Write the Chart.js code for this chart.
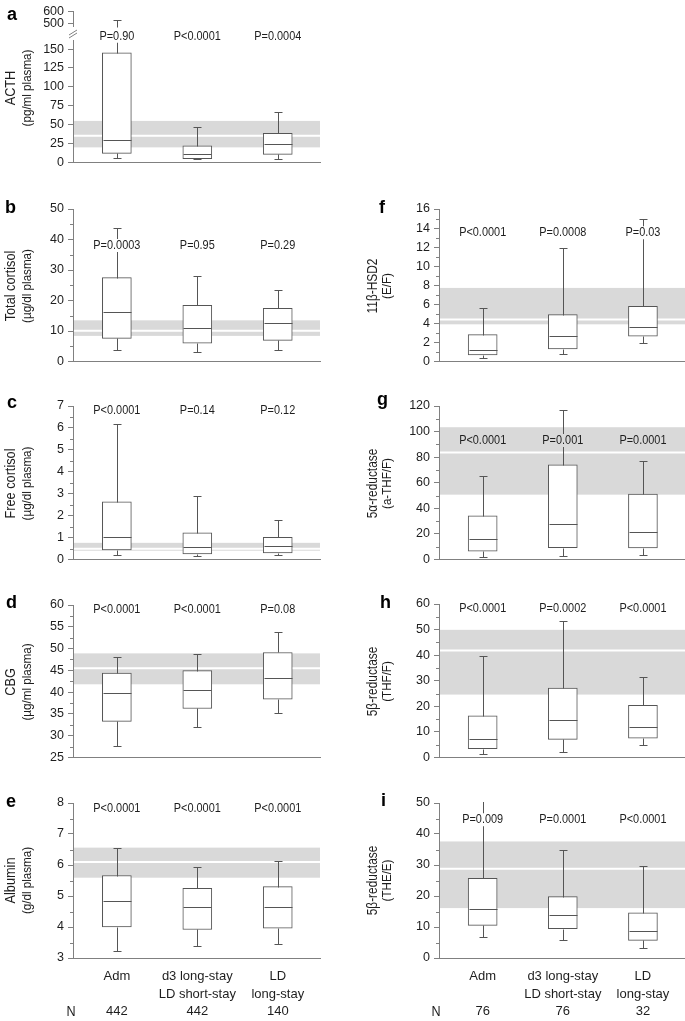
<!DOCTYPE html>
<html>
<head>
<meta charset="utf-8">
<script src="https://cdn.jsdelivr.net/npm/chart.js@4.4.1/dist/chart.umd.min.js"></script>
<style>
    html, body { margin: 0; padding: 0; background: #fff; }
    #fig { position: relative; width: 685px; height: 1021px; overflow: hidden; }
    #fig canvas { position: absolute; }
</style>
</head>
<body>
<div id="fig"></div>
<script>
// ============================================
// DATA
// box stats per group: [min, q1, median, q3, max]
// reference band: [low, mean, high]
// ============================================
const groupLabels = [['Adm', ''], ['d3 long-stay', 'LD short-stay'], ['LD', 'long-stay']];
const nPlasma = [442, 442, 140];
const nUrine = [76, 76, 32];

const acthBoxes = [[6.5, 12, 30, 145, 530], [4, 5.2, 10.8, 22.2, 47], [4.7, 10.8, 23.9, 38.6, 66.5]];
const acthRef = [20, 35.5, 55];
const acthP = ['P=0.90', 'P<0.0001', 'P=0.0004'];

const totalCortisolBoxes = [[3.7, 7.6, 16.1, 27.5, 43.9], [3.05, 6.0, 10.85, 18.45, 27.9], [3.7, 6.95, 12.5, 17.4, 23.4]];
const totalCortisolRef = [8.4, 10.1, 13.5];
const totalCortisolP = ['P=0.0003', 'P=0.95', 'P=0.29'];

const freeCortisolBoxes = [[0.21, 0.44, 1.01, 2.63, 6.17], [0.15, 0.26, 0.59, 1.22, 2.89], [0.21, 0.30, 0.60, 1.01, 1.80]];
const freeCortisolRef = [0.40, 0.49, 0.76];
const freeCortisolP = ['P<0.0001', 'P=0.14', 'P=0.12'];

const cbgBoxes = [[27.6, 33.3, 39.8, 44.4, 48.1], [32.0, 36.25, 40.6, 44.95, 48.8], [35.2, 38.4, 43.3, 49.1, 53.7]];
const cbgRef = [41.8, 45.5, 48.9];
const cbgP = ['P<0.0001', 'P<0.0001', 'P=0.08'];

const albuminBoxes = [[3.23, 4.0, 4.83, 5.66, 6.56], [3.38, 3.92, 4.63, 5.25, 5.93], [3.46, 3.96, 4.65, 5.30, 6.12]];
const albuminRef = [5.59, 6.10, 6.56];
const albuminP = ['P<0.0001', 'P<0.0001', 'P<0.0001'];

const hsd2Boxes = [[0.35, 0.70, 1.25, 2.82, 5.57], [0.77, 1.33, 2.68, 4.91, 11.87], [1.92, 2.65, 3.59, 5.78, 14.96]];
const hsd2Ref = [3.9, 4.4, 7.72];
const hsd2P = ['P<0.0001', 'P=0.0008', 'P=0.03'];

const alphaThfBoxes = [[1.6, 6.5, 15.8, 34.1, 65.5], [2.6, 9.3, 27.5, 74.0, 116.7], [3.4, 9.1, 21.7, 51.2, 76.8]];
const alphaThfRef = [50.7, 83.6, 103.4];
const alphaThfP = ['P<0.0001', 'P=0.001', 'P=0.0001'];

const betaThfBoxes = [[1.3, 3.5, 7.1, 16.3, 39.5], [2.2, 7.1, 14.6, 27.1, 53.3], [4.8, 7.6, 12.1, 20.4, 31.6]];
const betaThfRef = [24.6, 41.8, 49.9];
const betaThfP = ['P<0.0001', 'P=0.0002', 'P<0.0001'];

const betaTheBoxes = [[6.8, 10.5, 15.9, 25.7, 50.9], [5.9, 9.5, 14.0, 19.8, 34.8], [3.35, 5.7, 8.8, 14.6, 29.7]];
const betaTheRef = [16.1, 28.8, 37.6];
const betaTheP = ['P=0.009', 'P=0.0001', 'P<0.0001'];

// ============================================
// STYLE
// ============================================
const FAMILY = '"Liberation Sans", Arial, sans-serif';
const INK = '#1e1e1e';
const AXIS = '#808080';
const BOX = '#555555';
const BAND = '#d9d9d9';
const P_SIZE = 13;
const P_SQUEEZE = 0.84;

Chart.defaults.font.family = FAMILY;
Chart.defaults.color = INK;

/**
 * Draw condensed text (the figure uses a narrow sans)
 */
function narrowText(ctx, txt, x, y, size, squeeze, rotate) {
    ctx.save();
    ctx.translate(x, y);
    if (rotate) ctx.rotate(-Math.PI / 2);
    ctx.scale(squeeze, 1);
    ctx.font = size + 'px ' + FAMILY;
    ctx.fillStyle = INK;
    ctx.textAlign = 'center';
    ctx.textBaseline = 'middle';
    ctx.fillText(txt, 0, 0);
    ctx.restore();
}

// ============================================
// BOX PLOT PLUGIN
// band, whiskers, medians, texts
// ============================================
const boxPlugin = {
    id: 'boxplot',

    beforeDatasetsDraw(chart, args, o) {
        if (!o.ref) return;
        const { ctx, chartArea: a, scales: { y } } = chart;
        const lo = y.getPixelForValue(o.ref[0]);
        const mid = y.getPixelForValue(o.ref[1]);
        const hi = y.getPixelForValue(o.ref[2]);
        ctx.save();
        ctx.fillStyle = BAND;
        ctx.fillRect(a.left + 1, hi, a.right - a.left - 1, lo - hi);
        ctx.strokeStyle = '#ffffff';
        ctx.lineWidth = 2;
        ctx.beginPath();
        ctx.moveTo(a.left + 1, mid);
        ctx.lineTo(a.right, mid);
        ctx.stroke();
        ctx.restore();
    },

    afterDatasetsDraw(chart, args, o) {
        const { ctx, chartArea: a, scales: { x, y } } = chart;
        const ds = chart.data.datasets[0];
        ctx.save();
        ctx.beginPath();
        ctx.rect(a.left, a.top - 1, a.right - a.left, a.bottom - a.top + 2);
        ctx.clip();

        // whiskers stop short of the P value labels
        if (o.p) {
            ctx.font = P_SIZE + 'px ' + FAMILY;
            ctx.beginPath();
            ctx.rect(0, 0, chart.width, chart.height);
            o.p.forEach((txt, i) => {
                const w = ctx.measureText(txt).width * P_SQUEEZE + 2;
                const cy = y.getPixelForValue(o.pY);
                ctx.rect(x.getPixelForValue(i) - w / 2, cy - 6.5, w, 13);
            });
            ctx.clip('evenodd');
        }

        ctx.strokeStyle = BOX;
        ctx.lineWidth = 1;
        ds.stats.forEach((s, i) => {
            const cx = Math.round(x.getPixelForValue(i)) + 0.5;
            const [yMin, yQ1, yMed, yQ3, yMax] = s.map(v => Math.round(y.getPixelForValue(v)) + 0.5);
            ctx.beginPath();
            ctx.moveTo(cx, yQ1); ctx.lineTo(cx, yMin);
            ctx.moveTo(cx - 4, yMin); ctx.lineTo(cx + 4, yMin);
            ctx.moveTo(cx, yQ3); ctx.lineTo(cx, yMax);
            ctx.moveTo(cx - 4, yMax); ctx.lineTo(cx + 4, yMax);
            ctx.moveTo(cx - 14, yMed); ctx.lineTo(cx + 14, yMed);
            ctx.stroke();
        });
        ctx.restore();
    },

    afterDraw(chart, args, o) {
        const { ctx, chartArea: a, scales: { x, y } } = chart;
        ctx.save();

        // minor ticks halfway between labelled ticks
        if (o.minor) {
            const t = y.ticks;
            ctx.strokeStyle = AXIS;
            ctx.lineWidth = 1;
            ctx.beginPath();
            for (let k = 0; k < t.length - 1; k++) {
                const py = Math.round(y.getPixelForValue((t[k].value + t[k + 1].value) / 2)) + 0.5;
                ctx.moveTo(a.left - 3, py);
                ctx.lineTo(a.left, py);
            }
            ctx.stroke();
        }

        // axis break marks
        if (o.breakMark) {
            ctx.strokeStyle = AXIS;
            ctx.lineWidth = 1;
            ctx.beginPath();
            ctx.moveTo(a.left - 4, a.top - 2); ctx.lineTo(a.left + 4, a.top - 7);
            ctx.moveTo(a.left - 4, a.top - 5); ctx.lineTo(a.left + 4, a.top - 10);
            ctx.stroke();
        }

        // P values
        if (o.p) {
            o.p.forEach((txt, i) => {
                narrowText(ctx, txt, x.getPixelForValue(i), y.getPixelForValue(o.pY), P_SIZE, P_SQUEEZE);
            });
        }

        // y axis title, two lines rotated
        if (o.title) {
            const cy = o.titleCY - o.oy;
            narrowText(ctx, o.title[0], o.titleX[0] - o.ox, cy, o.titleSize[0], 0.82, true);
            narrowText(ctx, o.title[1], o.titleX[1] - o.ox, cy, o.titleSize[1], 0.86, true);
        }

        // panel letter
        if (o.letter) {
            ctx.fillStyle = '#000';
            ctx.font = 'bold 18px ' + FAMILY;
            ctx.textAlign = 'left';
            ctx.textBaseline = 'alphabetic';
            ctx.fillText(o.letter[0], o.letter[1] - o.ox, o.letter[2] - o.oy);
        }

        // "N" in front of the counts row
        if (o.nMark) {
            narrowText(ctx, 'N', o.nMark[0] - o.ox, o.nMark[1] - o.oy, 14, 0.9);
        }
        ctx.restore();
    }
};

// ============================================
// PANELS
// area = [top, bottom] of the plot in page pixels
// ============================================
const COLS = [
    { left: 0, axisX: 73, plotRight: 320, right: 325, titleX: [11, 27], titleSize: [15.5, 13.5] },
    { left: 340, axisX: 439, plotRight: 685, right: 685, titleX: [373, 387], titleSize: [14.5, 13.5] }
];

const panels = [
    { col: 0, area: [40, 164], y: [0, 162], step: 25, boxes: acthBoxes, ref: acthRef, p: acthP, pY: 167,
      title: ['ACTH', '(pg/ml plasma)'], titleCY: 88, letter: ['a', 7, 20], breakMark: true, canvasTop: 0 },
    { col: 0, area: [11, 30], y: [473, 600], step: 100, boxes: acthBoxes, hideX: true, canvasTop: 0, canvasBottom: 38 },
    { col: 0, area: [209, 363], y: [0, 50], step: 10, boxes: totalCortisolBoxes, ref: totalCortisolRef, p: totalCortisolP, pY: 38,
      title: ['Total cortisol', '(µg/dl plasma)'], letter: ['b', 5, 213], minor: true },
    { col: 0, area: [406, 561], y: [0, 7], step: 1, boxes: freeCortisolBoxes, ref: freeCortisolRef, p: freeCortisolP, pY: 6.82,
      title: ['Free cortisol', '(µg/dl plasma)'], letter: ['c', 7, 408], minor: true },
    { col: 0, area: [605, 759], y: [25, 60], step: 5, boxes: cbgBoxes, ref: cbgRef, p: cbgP, pY: 59.0,
      title: ['CBG', '(µg/ml plasma)'], letter: ['d', 6, 608], minor: true },
    { col: 0, area: [803, 958], y: [3, 8], step: 1, boxes: albuminBoxes, ref: albuminRef, p: albuminP, pY: 7.84,
      title: ['Albumin', '(g/dl plasma)'], letter: ['e', 6, 807], minor: true, counts: nPlasma, nMark: [71, 1012] },
    { col: 1, area: [209, 363], y: [0, 16], step: 2, boxes: hsd2Boxes, ref: hsd2Ref, p: hsd2P, pY: 13.5,
      title: ['11β-HSD2', '(E/F)'], letter: ['f', 379, 213], minor: true },
    { col: 1, area: [406, 561], y: [0, 120], step: 20, boxes: alphaThfBoxes, ref: alphaThfRef, p: alphaThfP, pY: 93.1,
      title: ['5α-reductase', '(a-THF/F)'], letter: ['g', 377, 405], minor: true },
    { col: 1, area: [604, 759], y: [0, 60], step: 10, boxes: betaThfBoxes, ref: betaThfRef, p: betaThfP, pY: 58.1,
      title: ['5β-reductase', '(THF/F)'], letter: ['h', 380, 608], minor: true },
    { col: 1, area: [803, 958], y: [0, 50], step: 10, boxes: betaTheBoxes, ref: betaTheRef, p: betaTheP, pY: 44.6,
      title: ['5β-reductase', '(THE/E)'], letter: ['i', 381, 806], minor: true, counts: nUrine, nMark: [436, 1012] }
];

/**
 * Build one panel as its own Chart
 */
function buildPanel(p) {
    const col = COLS[p.col];
    const xAxisH = p.counts ? 63 : 0;
    const top = p.canvasTop !== undefined ? p.canvasTop : p.area[0] - 20;
    const bottom = p.canvasBottom !== undefined ? p.canvasBottom : p.area[1] + (p.counts ? 63 : 10);
    const cv = document.createElement('canvas');
    cv.width = col.right - col.left;
    cv.height = bottom - top;
    cv.style.left = col.left + 'px';
    cv.style.top = top + 'px';
    document.getElementById('fig').appendChild(cv);

    const xLabels = p.counts ? groupLabels.map((g, i) => [g[0], g[1], String(p.counts[i])]) : null;

    return new Chart(cv, {
        type: 'bar',
        data: {
            datasets: [{
                data: p.boxes.map((b, i) => ({ x: i, y: [b[1], b[3]] })),
                stats: p.boxes,
                backgroundColor: '#ffffff',
                borderColor: BOX,
                borderWidth: 1,
                borderSkipped: false,
                barThickness: 29
            }]
        },
        options: {
            responsive: false,
            animation: false,
            events: [],
            layout: {
                padding: {
                    left: 0,
                    right: col.right - col.plotRight,
                    top: p.area[0] - top,
                    bottom: bottom - p.area[1] - xAxisH
                }
            },
            plugins: {
                legend: { display: false },
                tooltip: { enabled: false },
                boxplot: {
                    ref: p.ref || null,
                    p: p.p || null,
                    pY: p.pY,
                    title: p.title || null,
                    titleX: col.titleX,
                    titleSize: col.titleSize,
                    titleCY: p.titleCY !== undefined ? p.titleCY : (p.area[0] + p.area[1]) / 2,
                    letter: p.letter || null,
                    nMark: p.nMark || null,
                    minor: !!p.minor,
                    breakMark: !!p.breakMark,
                    ox: col.left,
                    oy: top
                }
            },
            scales: {
                x: {
                    type: 'linear',
                    offset: false,
                    min: -0.545,
                    max: 2.525,
                    grid: { display: false, drawTicks: false },
                    border: { display: !p.hideX, color: AXIS },
                    afterBuildTicks: (s) => { s.ticks = [0, 1, 2].map(v => ({ value: v })); },
                    afterFit: (s) => { s.height = xAxisH; },
                    ticks: {
                        display: !!p.counts,
                        padding: 10,
                        color: INK,
                        font: { size: 13, lineHeight: 17.5 / 13 },
                        callback: (v, i) => xLabels ? xLabels[i] : ''
                    }
                },
                y: {
                    min: p.y[0],
                    max: p.y[1],
                    afterFit: (s) => { s.width = col.axisX - col.left; },
                    grid: { drawOnChartArea: false, tickLength: 5, color: AXIS },
                    border: { color: AXIS },
                    ticks: {
                        stepSize: p.step,
                        includeBounds: false,
                        padding: 4,
                        color: INK,
                        font: { size: 12.5 }
                    }
                }
            }
        },
        plugins: [boxPlugin]
    });
}

panels.forEach(buildPanel);
</script>
</body>
</html>
